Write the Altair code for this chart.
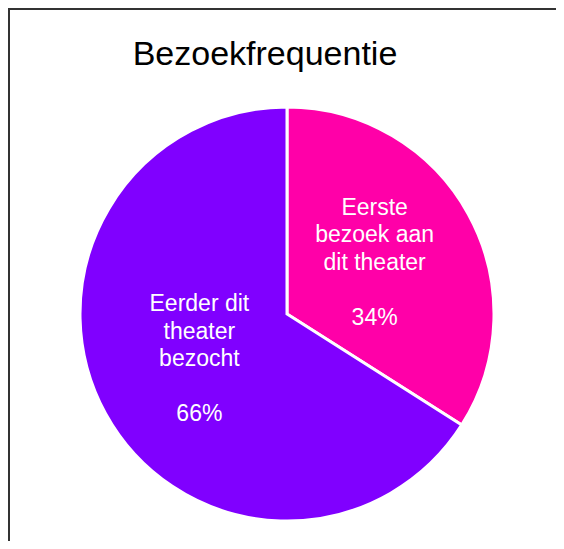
import altair as alt
import pandas as pd

categories = ["Eerste\nbezoek aan\ndit theater", "Eerder dit\ntheater\nbezocht"]
values = [34, 66]
order = [1, 2]
colors = ["#FF00A8", "#8000FF"]
title_text = "Bezoekfrequentie"

df = pd.DataFrame({"cat": categories, "value": values, "ord": order})
df["pct"] = df["value"].astype(str) + "%"

W, H = 548, 533
CX, CY = 279, 306
LH = 27.5
R_LAB = 100

base = alt.Chart(df).encode(
    theta=alt.Theta("value:Q", stack=True),
    order=alt.Order("ord:Q"),
)

pie = base.mark_arc(outerRadius=207, stroke="white", strokeWidth=3).encode(
    color=alt.Color("cat:N", scale=alt.Scale(domain=categories, range=colors), legend=None),
    x=alt.value(CX),
    y=alt.value(CY),
)

txt_style = dict(radius=R_LAB, color="white", fontSize=23, font="Liberation Sans",
                 lineBreak="\n", lineHeight=LH, align="center", baseline="middle")

labels = base.mark_text(dy=-2 * LH - 3, **txt_style).encode(
    text="cat:N", x=alt.value(CX), y=alt.value(CY),
)
pcts = base.mark_text(dy=2 * LH - 3, **txt_style).encode(
    text="pct:N", x=alt.value(CX), y=alt.value(CY),
)

title = alt.Chart(pd.DataFrame({"t": [title_text]})).mark_text(
    fontSize=34, font="Liberation Sans", color="black", align="center", baseline="alphabetic"
).encode(text="t:N", x=alt.value(257), y=alt.value(57))

border_top = alt.Chart(pd.DataFrame({"a": [0]})).mark_rule(color="#333333", strokeWidth=2).encode(
    x=alt.value(-2), x2=alt.value(W), y=alt.value(1)
)
border_left = alt.Chart(pd.DataFrame({"a": [0]})).mark_rule(color="#333333", strokeWidth=2).encode(
    x=alt.value(1), y=alt.value(0), y2=alt.value(H)
)

chart = alt.layer(pie, labels, pcts, title, border_top, border_left).properties(
    width=W, height=H, padding=0, autosize="none"
).configure_view(stroke=None)

chart.save("out.html", embed_options={"renderer": "svg", "actions": False})
